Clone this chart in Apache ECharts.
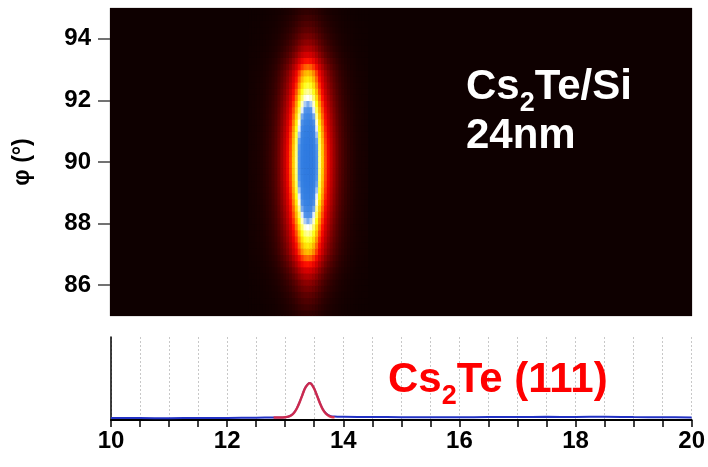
<!DOCTYPE html>
<html><head><meta charset="utf-8">
<script src="https://cdn.jsdelivr.net/npm/echarts@6/dist/echarts.min.js"></script>
<style>html,body{margin:0;padding:0;background:#fff}#c{width:708px;height:467px}</style>
</head><body><div id="c"></div>
<script>
// ---------- data ----------
const phiTicks = [86, 88, 90, 92, 94];
const twoThetaTicks = [10, 12, 14, 16, 18, 20];

// intensity map: cross-section along 2θ (relative) and along φ (relative)
const mapTwoTheta = [12.4,12.45,12.5,12.55,12.6,12.65,12.7,12.75,12.8,12.85,12.9,12.95,13.0,13.05,13.1,13.15,13.2,13.25,13.3,13.35,
                     13.4,
                     13.45,13.5,13.55,13.6,13.65,13.7,13.75,13.8,13.85,13.9,13.95,14.0,14.05,14.1,14.15,14.2,14.25,14.3,14.35,14.4];
const mapTwoThetaProfile = [0.025,0.03,0.035,0.045,0.055,0.07,0.09,0.115,0.145,0.18,0.23,0.29,0.35,0.42,0.50,0.60,0.70,0.82,0.92,0.98,
                            1.00,
                            0.98,0.92,0.82,0.70,0.60,0.50,0.42,0.35,0.29,0.235,0.185,0.15,0.12,0.095,0.075,0.06,0.045,0.035,0.03,0.025];
const mapPhi = [85.1,85.3,85.5,85.7,85.9,86.1,86.3,86.5,86.7,86.9,87.1,87.3,87.5,87.7,87.9,88.1,88.3,88.5,88.7,88.9,
                89.1,89.3,89.5,89.7,89.9,90.1,90.3,90.5,90.7,90.9,91.1,91.3,91.5,91.7,91.9,92.1,92.3,92.5,92.7,92.9,
                93.1,93.3,93.5,93.7,93.9,94.1,94.3,94.5,94.7,94.9];
const mapPhiProfile = [0.10,0.13,0.16,0.19,0.23,0.27,0.32,0.38,0.45,0.52,0.59,0.63,0.67,0.71,0.75,0.79,0.825,0.86,0.895,0.925,
                       0.95,0.97,0.985,0.995,1.0,1.0,0.995,0.985,0.97,0.95,0.925,0.895,0.86,0.825,0.79,0.75,0.71,0.67,0.63,0.59,
                       0.52,0.45,0.38,0.32,0.27,0.23,0.19,0.16,0.13,0.10];
const mapBackground = 0;

// integrated scan (blue) and peak fit (red)
const scanX = [10,10.5,11,11.5,12,12.5,12.8,12.9,12.95,13.0,13.05,13.1,13.15,13.2,13.25,13.3,13.35,13.42,13.45,13.5,13.55,
               13.6,13.65,13.7,13.75,13.8,13.85,13.9,14.0,14.5,15,15.5,16,16.5,17,17.5,18,18.5,19,19.5,20];
const scanY = [2.4,2.3,2.2,2.4,2.5,2.8,3.0,3.0,3.1,3.3,4.0,5.5,8.6,14.0,21.8,31.0,39.3,44.5,43.5,37.8,29.1,
               20.1,12.7,8.2,5.6,4.3,4.1,4.0,3.9,3.6,3.4,3.3,3.3,3.5,3.6,3.8,3.7,3.9,3.5,3.4,3.1];
const fitX = [12.8,12.9,12.95,13.0,13.05,13.1,13.15,13.2,13.25,13.3,13.35,13.42,13.45,13.5,13.55,13.6,13.65,13.7,13.75,13.8,13.85];
const fitY = [3.0,3.0,3.1,3.3,4.0,5.5,8.5,13.9,21.7,30.9,39.2,44.4,43.4,37.7,29.0,20.0,12.5,7.7,5.0,3.7,3.3];

// ---------- chart ----------
const FONT = '"Liberation Sans", Arial, Helvetica, sans-serif';
const heatColors = ['#0e0000','#1e0000','#320000','#4a0000','#640000','#820000','#a20000','#c30000','#e40000',
  '#ff1200','#ff5000','#ff9000','#ffcc00','#ffff10','#ffff80','#ffffff','#5896ea','#3f86e4','#3580e2','#317ce1','#2f7ae0'];
const cellW = 0.05, cellH = 0.2;
const xLo = 10, xHi = 20, phiLo = 85, phiHi = 95;
// cells: [x0, x1, phi0, phi1, value]
const cells = [];
cells.push([xLo, mapTwoTheta[0] - cellW / 2, phiLo, phiHi, mapBackground]);
cells.push([mapTwoTheta[mapTwoTheta.length - 1] + cellW / 2, xHi, phiLo, phiHi, mapBackground]);
for (let j = 0; j < mapPhi.length; j++) {
  for (let i = 0; i < mapTwoTheta.length; i++) {
    cells.push([mapTwoTheta[i] - cellW / 2, mapTwoTheta[i] + cellW / 2, mapPhi[j] - cellH / 2, mapPhi[j] + cellH / 2,
                +(mapTwoThetaProfile[i] * mapPhiProfile[j]).toFixed(4)]);
  }
}
const pairs = (xs, ys) => xs.map((x, k) => [x, ys[k]]);
const richText = (fill) => ({
  a: {fontSize: 42, fontWeight: 'bold', fontFamily: FONT, fill: fill, padding: [0, 0, 9, 0]},
  s: {fontSize: 27, fontWeight: 'bold', fontFamily: FONT, fill: fill, verticalAlign: 'bottom'}
});

const chart = echarts.init(document.getElementById('c'));
chart.setOption({
  animation: false,
  grid: [
    {left: 110, top: 8, width: 582, height: 308, show: true, backgroundColor: '#0e0000', borderColor: '#c8c8c8', borderWidth: 1},
    {left: 111, top: 337, width: 581, height: 83}
  ],
  xAxis: [
    {gridIndex: 0, type: 'value', min: xLo, max: xHi, show: false},
    {gridIndex: 1, type: 'value', min: xLo, max: xHi, interval: 0.5,
     axisLine: {show: true, onZero: false, lineStyle: {color: '#000', width: 2}},
     axisTick: {show: true, length: 7, lineStyle: {color: '#000', width: 1.5}},
     axisLabel: {customValues: twoThetaTicks, fontSize: 24, fontWeight: 'bold', color: '#000', fontFamily: FONT, margin: 9},
     splitLine: {show: true, lineStyle: {color: '#c8c8c8', type: [2, 2], width: 1}}}
  ],
  yAxis: [
    {gridIndex: 0, type: 'value', min: phiLo, max: phiHi,
     name: 'φ (°)', nameLocation: 'middle', nameRotate: 90, nameGap: 76,
     nameTextStyle: {fontSize: 23, fontWeight: 'bold', color: '#000', fontFamily: FONT},
     axisLine: {show: false},
     axisTick: {show: true, customValues: phiTicks, length: 12, lineStyle: {color: '#444', width: 1.5}},
     axisLabel: {customValues: phiTicks, fontSize: 24, fontWeight: 'bold', color: '#000', fontFamily: FONT, margin: 19},
     splitLine: {show: false}},
    {gridIndex: 1, type: 'value', min: 0, max: 100,
     axisLine: {show: true, lineStyle: {color: '#000', width: 1.5}},
     axisTick: {show: false}, axisLabel: {show: false}, splitLine: {show: false}}
  ],
  visualMap: {type: 'continuous', show: false, seriesIndex: 0, dimension: 4, min: 0, max: 1, inRange: {color: heatColors}},
  series: [
    {type: 'custom', xAxisIndex: 0, yAxisIndex: 0, data: cells, encode: {x: [0, 1], y: [2, 3]}, clip: true, silent: true,
     renderItem: function (params, api) {
       const p0 = api.coord([api.value(0), api.value(3)]);
       const p1 = api.coord([api.value(1), api.value(2)]);
       return {type: 'rect', shape: {x: p0[0], y: p0[1], width: p1[0] - p0[0] + 0.6, height: p1[1] - p0[1] + 0.6},
               style: {fill: api.visual('color')}};
     }},
    {type: 'line', xAxisIndex: 1, yAxisIndex: 1, data: pairs(scanX, scanY), showSymbol: false, smooth: 0.3,
     lineStyle: {color: '#2231c4', width: 2}, z: 3},
    {type: 'line', xAxisIndex: 1, yAxisIndex: 1, data: pairs(fitX, fitY), showSymbol: false, smooth: 0.3,
     lineStyle: {color: '#e8283a', width: 2.5, opacity: 0.85}, z: 4}
  ],
  graphic: [
    {type: 'text', left: 466, top: 66, z: 100, style: {text: '{a|Cs}{s|2}{a|Te/Si}', rich: richText('#fff')}},
    {type: 'text', left: 466, top: 115, z: 100, style: {text: '24nm', font: 'bold 42px ' + FONT, fill: '#fff'}},
    {type: 'text', left: 388, top: 359, z: 100, style: {text: '{a|Cs}{s|2}{a|Te (111)}', rich: richText('#ff0000')}}
  ]
});
</script></body></html>
